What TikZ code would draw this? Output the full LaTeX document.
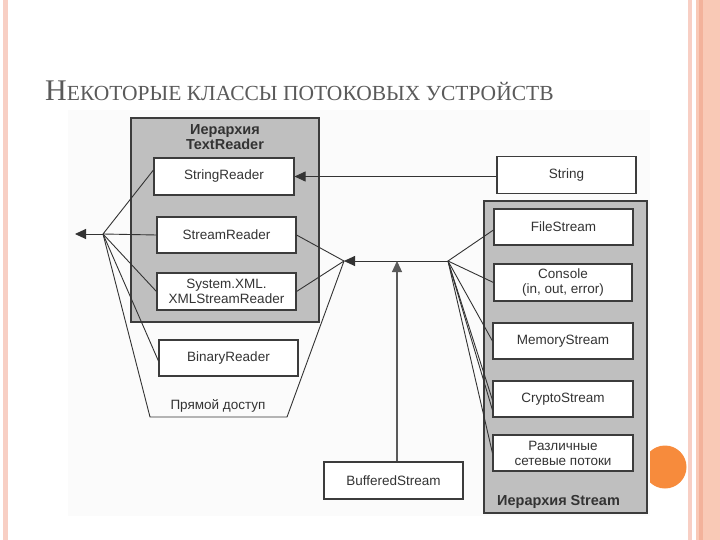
\documentclass[tikz,border=0pt]{standalone}
\usepackage{fontspec}
\setmainfont{Liberation Serif}
\newfontfamily\arial{Liberation Sans}
\usetikzlibrary{arrows.meta}
\definecolor{band}{HTML}{F9C9B6}
\definecolor{bandd}{HTML}{F3B29B}
\definecolor{pinkl}{HTML}{F8CFC4}
\definecolor{dot}{HTML}{F78B3C}
\definecolor{grayfill}{HTML}{BFBFBF}
\definecolor{edge}{HTML}{3C3C3C}
\definecolor{ink}{HTML}{333333}
\definecolor{titlec}{HTML}{5A5A5A}
\tikzset{
  classbox/.style={draw=edge, line width=1.1pt, fill=white, minimum width=139pt, minimum height=36pt,
    inner sep=0pt, align=center, font=\arial\fontsize{13.5}{15}\selectfont, text=ink},
  groupbox/.style={draw=edge, line width=1.1pt, fill=grayfill, inner sep=0pt},
  grouplabel/.style={font=\arial\bfseries\fontsize{14.5}{15}\selectfont, text=ink, align=center, inner sep=0pt},
  conn/.style={draw=ink, line width=0.9pt},
  arr/.style={conn, -{Triangle[length=11pt,width=10pt]}},
}
\begin{document}
\begin{tikzpicture}[x=1pt,y=-1pt]
\useasboundingbox (0,0) rectangle (720,540);
% slide decoration
\fill[pinkl] (3,0) rectangle (8,540);
\fill[pinkl] (688,0) rectangle (692,540);
\fill[band] (696,0) rectangle (720,540);
\fill[bandd] (699,0) rectangle (703,540);
\fill[dot] (665,467) circle (21.5);
% title
\node[anchor=base west, inner sep=0pt, text=titlec] (title) at (45,101)
  {{\fontsize{30}{30}\selectfont Н}{\fontsize{21.5}{22}\selectfont\MakeUppercase{екоторые классы потоковых устройств}}};
% diagram background
\fill[black!1.5] (68,110) rectangle (650,516);
% TextReader hierarchy
\node[groupbox, minimum width=188pt, minimum height=204pt] (trg) at (225,220) {};
\node[grouplabel] (trl) at (225,137.5) {Иерархия\\TextReader};
\node[classbox, minimum width=140pt, minimum height=37pt] (sr) at (224,176.5) {StringReader};
\node[classbox] (stm) at (226.5,235) {StreamReader};
\node[classbox, minimum height=37pt] (xml) at (226.5,291.5) {System.XML.\\XMLStreamReader};
\node[classbox] (br) at (228.5,358) {BinaryReader};
\node[font=\arial\fontsize{13.5}{15}\selectfont, text=ink, inner sep=0pt] (direct) at (218,406) {Прямой доступ};
% String
\node[classbox, minimum height=37pt] (str) at (566.5,175) {String};
% Stream hierarchy
\node[groupbox, minimum width=163pt, minimum height=312pt] (stg) at (565.5,357) {};
\node[grouplabel, anchor=west] (stl) at (497,502) {Иерархия Stream};
\node[classbox] (fs) at (563.5,227) {FileStream};
\node[classbox, minimum width=138pt, minimum height=37pt] (con) at (563,282.5) {Console\\(in, out, error)};
\node[classbox, minimum width=140pt] (mem) at (563,341) {MemoryStream};
\node[classbox, minimum width=140pt] (cry) at (563,399) {CryptoStream};
\node[classbox, minimum width=140pt] (net) at (563,453) {Различные\\сетевые потоки};
% BufferedStream
\node[classbox, minimum height=37pt] (buf) at (393.5,480.5) {BufferedStream};
% junction points
\coordinate (L) at (103,234);
\coordinate (tipL) at (75,234);
\coordinate (R) at (344,261);
\coordinate (J) at (448,261);
\coordinate (B1) at (150,417);
\coordinate (B2) at (287,417);
\coordinate (up) at (397,261);
% left fan
\draw[arr] (L) -- (tipL);
\draw[conn] ([yshift=6.5pt]sr.west) -- (L) -- (stm.west);
\draw[conn] (L) -- (xml.west);
\draw[conn] (L) -- ([yshift=-3pt]br.west);
\draw[conn] (L) -- (B1) -- (B2) -- (R);
% right fan of TextReader
\draw[conn] (stm.east) -- (R) -- (xml.east);
% String -> StringReader
\draw[arr] (sr.east -| str.west) -- (sr.east);
% Stream fan
\draw[arr] (J) -- (R);
\draw[arr, line width=1.2pt, draw=titlec] (buf.north -| up) -- (up);
\draw[conn] ([yshift=-3pt]fs.west) -- (J) -- (con.west);
\draw[conn] (J) -- (mem.west);
\draw[conn] (J) -- ([yshift=-1pt]cry.west);
\draw[conn] (J) -- ([yshift=-11pt]cry.west);
\draw[conn] (J) -- (net.west);
\end{tikzpicture}
\end{document}
